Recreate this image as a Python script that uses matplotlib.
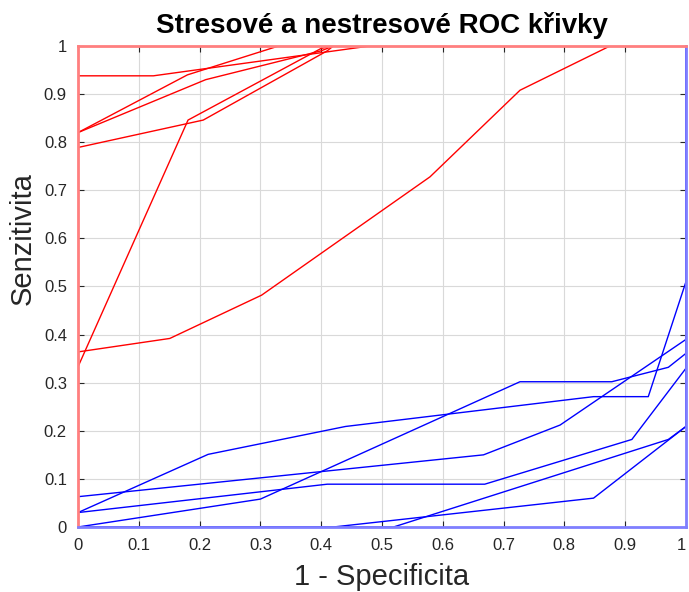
import numpy as np
import matplotlib.pyplot as plt

# stresove ROC krivky (cervene)
red_x = [
    [0, 0, 0.124, 0.48, 1],
    [0, 0, 0.18, 0.33, 1],
    [0, 0, 0.21, 0.40, 0.42, 1],
    [0, 0, 0.206, 0.41, 0.42, 1],
    [0, 0, 0.181, 0.40, 0.42, 1],
    [0, 0, 0.151, 0.302, 0.579, 0.727, 0.875, 1],
]
red_y = [
    [0, 0.938, 0.938, 1.0, 1],
    [0, 0.82, 0.94, 1.0, 1],
    [0, 0.82, 0.93, 0.99, 1.0, 1],
    [0, 0.789, 0.846, 0.99, 1.0, 1],
    [0, 0.333, 0.846, 0.995, 1.0, 1],
    [0, 0.364, 0.392, 0.482, 0.728, 0.908, 1.0, 1],
]

# nestresove ROC krivky (modre)
blue_x = [
    [0, 0, 0.214, 0.44, 0.848, 0.938, 1, 1],
    [0, 0.30, 0.727, 0.878, 0.971, 1, 1],
    [0, 0, 0.667, 0.793, 1, 1],
    [0, 0, 0.41, 0.669, 0.911, 1, 1],
    [0, 0.519, 0.971, 1, 1],
    [0, 0.42, 0.848, 1, 1],
]
blue_y = [
    [0, 0.03, 0.151, 0.209, 0.271, 0.271, 0.51, 1],
    [0, 0.058, 0.302, 0.302, 0.332, 0.361, 1],
    [0, 0.063, 0.15, 0.212, 0.39, 1],
    [0, 0.03, 0.089, 0.089, 0.182, 0.33, 1],
    [0, 0, 0.182, 0.209, 1],
    [0, 0, 0.06, 0.209, 1],
]

ticks = np.arange(0, 1.01, 0.1)
tick_labels = ['0', '0.1', '0.2', '0.3', '0.4', '0.5', '0.6', '0.7', '0.8', '0.9', '1']

plt.rcParams['font.family'] = ['Liberation Sans', 'DejaVu Sans']

fig = plt.figure(figsize=(6.89, 5.92), dpi=100)
ax = fig.add_axes([0.1132, 0.1098, 0.8824, 0.8125])

for xs, ys in zip(red_x, red_y):
    ax.plot(xs, ys, color='red', lw=1.0)
for xs, ys in zip(blue_x, blue_y):
    ax.plot(xs, ys, color='blue', lw=1.0)

ax.set_xlim(0, 1)
ax.set_ylim(0, 1)
ax.set_xticks(ticks)
ax.set_yticks(ticks)
ax.set_xticklabels(tick_labels)
ax.set_yticklabels(tick_labels)
ax.get_xticklabels()[-1].set_horizontalalignment('right')
ax.grid(True, color='#d9d9d9', lw=0.8)
ax.set_axisbelow(True)
ax.tick_params(direction='in', top=True, right=True, length=4, labelsize=12,
               colors='#262626', pad=8)

ax.spines['left'].set_color('#ff7f7f')
ax.spines['top'].set_color('#ff7f7f')
ax.spines['right'].set_color('#7f7fff')
ax.spines['bottom'].set_color('#7f7fff')
for s in ax.spines.values():
    s.set_linewidth(2)

ax.set_title('Stresové a nestresové ROC křivky', fontsize=20, fontweight='bold', pad=9)
ax.set_xlabel('1 - Specificita', fontsize=21, color='#262626', labelpad=7)
ax.set_ylabel('Senzitivita', fontsize=21, color='#262626')
ax.yaxis.set_label_coords(-0.068, 0.60)

fig.savefig('out.png', dpi=100)
